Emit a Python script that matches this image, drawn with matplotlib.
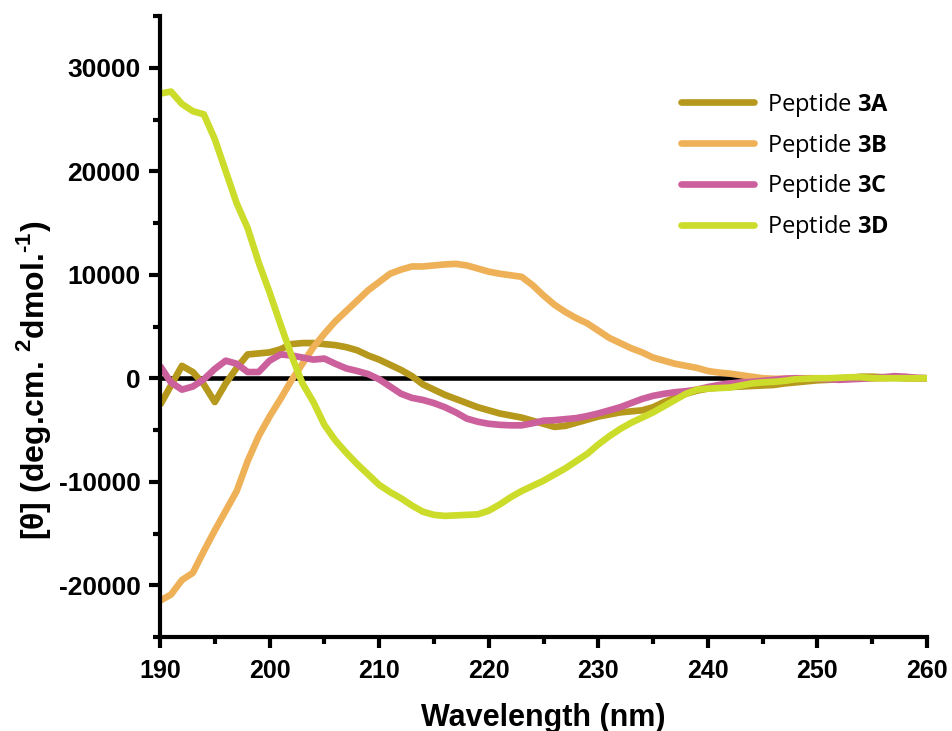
import numpy as np
import matplotlib
matplotlib.use("Agg")
import matplotlib.pyplot as plt
from matplotlib.ticker import MultipleLocator

# Wavelength grid (nm), 1 nm steps
wavelength = np.arange(190, 261, 1)

# Mean residue ellipticity for each peptide
peptide_3a = [
    -2600, -700, 1200, 600, -600, -2300, -500, 1000, 2300, 2400,
    2500, 2800, 3300, 3400, 3400, 3300, 3200, 3000, 2700, 2200,
    1800, 1300, 800, 200, -600, -1100, -1600, -2000, -2400, -2800,
    -3100, -3400, -3600, -3800, -4100, -4400, -4700, -4600, -4300, -4000,
    -3700, -3500, -3300, -3200, -3100, -2800, -2300, -1900, -1500, -1200,
    -1000, -900, -850, -800, -750, -700, -650, -500, -400, -300,
    -200, -150, -100, 50, 150, 150, 100, 50, 0, 0,
    0,
]
peptide_3b = [
    -21500, -20900, -19500, -18800, -16700, -14700, -12800, -10900, -8000, -5600,
    -3700, -2000, -200, 1400, 3000, 4300, 5500, 6500, 7500, 8500,
    9300, 10100, 10500, 10800, 10800, 10900, 11000, 11050, 10900, 10600,
    10300, 10100, 9950, 9800, 9000, 8000, 7100, 6400, 5800, 5300,
    4600, 3900, 3400, 2900, 2500, 2000, 1700, 1400, 1200, 1000,
    700, 550, 450, 300, 150, 0, -50, -50, 0, 0,
    0, -50, 0, 0, 0, 0, 0, 50, 50, 0,
    0,
]
peptide_3c = [
    1200, -400, -1100, -800, -100, 900, 1700, 1400, 600, 600,
    1700, 2300, 2200, 2000, 1800, 1900, 1400, 950, 700, 400,
    -100, -800, -1500, -1900, -2100, -2400, -2800, -3300, -3900, -4200,
    -4400, -4500, -4550, -4550, -4350, -4100, -4050, -3950, -3850, -3650,
    -3400, -3100, -2800, -2400, -2000, -1700, -1500, -1350, -1250, -1100,
    -850, -650, -500, -400, -350, -250, -150, -50, 0, -50,
    -50, -100, -150, -100, -50, 0, 100, 200, 150, 50,
    0,
]
peptide_3d = [
    27500, 27700, 26500, 25800, 25500, 23100, 20000, 16900, 14500, 11200,
    8300, 5200, 2200, -500, -2300, -4500, -6000, -7200, -8300, -9300,
    -10300, -11000, -11600, -12300, -12900, -13200, -13300, -13250, -13200, -13150,
    -12800, -12200, -11500, -10900, -10400, -9900, -9300, -8700, -8000, -7300,
    -6400, -5600, -4900, -4300, -3800, -3300, -2700, -2100, -1500, -1100,
    -1000, -950, -900, -700, -500, -400, -350, -250, -100, -50,
    0, 0, 50, 100, 100, 0, 0, 0, 0, 0,
    0,
]

series = [
    ("Peptide $\\mathbf{3A}$", peptide_3a, "#b5981c"),
    ("Peptide $\\mathbf{3B}$", peptide_3b, "#eeb157"),
    ("Peptide $\\mathbf{3C}$", peptide_3c, "#cc609c"),
    ("Peptide $\\mathbf{3D}$", peptide_3d, "#cbdc2a"),
]

plt.rcParams["mathtext.fontset"] = "custom"
plt.rcParams["mathtext.rm"] = "Liberation Sans:bold"
plt.rcParams["mathtext.bf"] = "Open Sans:bold"
plt.rcParams["font.family"] = ["Liberation Sans", "DejaVu Sans"]
plt.rcParams["axes.unicode_minus"] = False

fig = plt.figure(figsize=(9.52, 7.31), dpi=100)
ax = fig.add_axes([160 / 952, 1 - 637 / 731, (927 - 160) / 952, (637 - 16) / 731])

ax.axhline(0, color="black", lw=3.3, zorder=1)

for label, values, color in series:
    ax.plot(wavelength, values, color=color, lw=4.8,
            solid_joinstyle="round", solid_capstyle="butt",
            label=label, zorder=2)

ax.set_xlim(190, 260)
ax.set_ylim(-25000, 35000)
ax.xaxis.set_major_locator(MultipleLocator(10))
ax.xaxis.set_minor_locator(MultipleLocator(5))
ax.set_yticks([-20000, -10000, 0, 10000, 20000, 30000])
ax.yaxis.set_minor_locator(MultipleLocator(5000))

for side in ("top", "right"):
    ax.spines[side].set_visible(False)
for side in ("left", "bottom"):
    ax.spines[side].set_linewidth(3.0)

ax.tick_params(which="major", direction="out", length=8, width=3.0, pad=6)
ax.tick_params(which="minor", direction="out", length=5, width=3.0)
ax.tick_params(axis="x", which="major", pad=8, labelsize=18)
ax.tick_params(axis="y", which="major", labelsize=19)
for lab in ax.get_xticklabels() + ax.get_yticklabels():
    lab.set_fontweight("bold")

ax.set_xlabel("Wavelength (nm)", fontsize=22, fontweight="bold", labelpad=14)
ax.set_ylabel("[θ] (deg.cm. $^{2}$dmol.$^{\\text{-1}}$)", fontsize=23,
              fontweight="bold")
ax.yaxis.set_label_coords(-0.1395, 0.414)

leg = ax.legend(loc="upper left", bbox_to_anchor=(0.679, 0.88),
                frameon=False, handlelength=3.1,
                handletextpad=0.55, labelspacing=0.55, borderpad=0,
                borderaxespad=0, prop={"family": "Open Sans", "size": 17})
for h in leg.get_lines():
    h.set_solid_capstyle("round")
    h.set_linewidth(4.8)

fig.savefig("out.png", dpi=100)
